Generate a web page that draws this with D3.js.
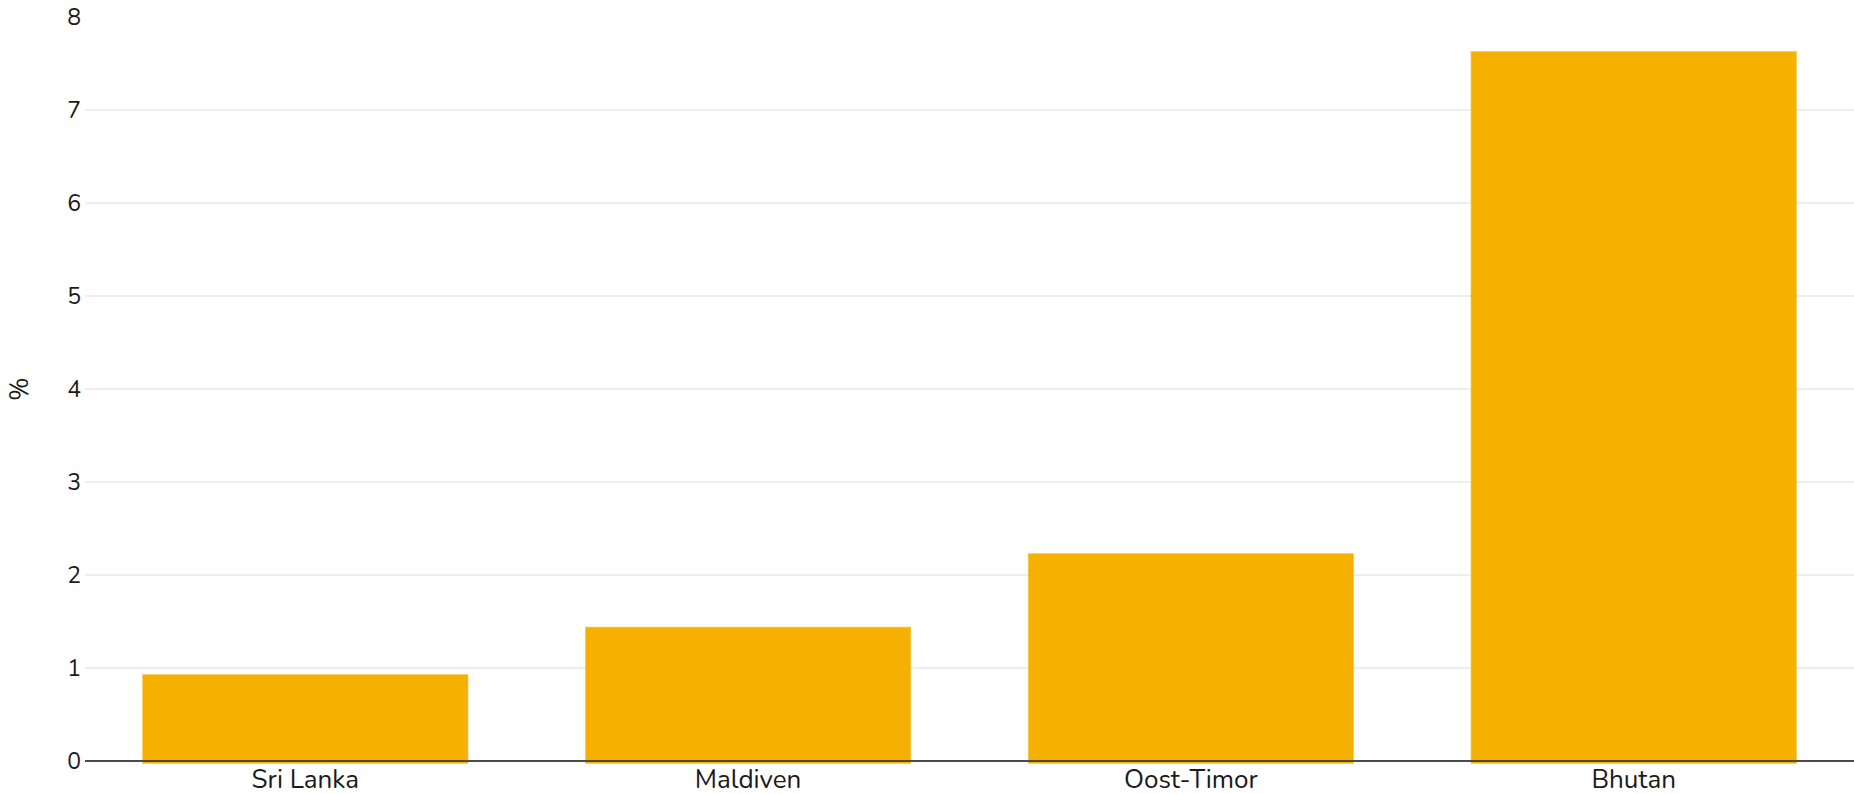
<!DOCTYPE html>
<html>
<head>
<meta charset="utf-8">
<script src="https://cdn.jsdelivr.net/npm/d3@7"></script>
<style>
  html, body { margin: 0; padding: 0; background: #fff; }
  text { font-family: Nunito, Lato, "Noto Sans", sans-serif; fill: #1a1a1a; }
</style>
</head>
<body>
<div id="wrapper"></div>
<script>
// data
const countries = ["Sri Lanka", "Maldiven", "Oost-Timor", "Bhutan"]
const values = [0.93, 1.44, 2.23, 7.63]
const yTicks = [0, 1, 2, 3, 4, 5, 6, 7, 8]
const yLabel = "%"

const dimensions = { width: 1854, height: 794 }
const margin = { top: 17, right: 0, bottom: 33, left: 85 }

const svg = d3.select("#wrapper")
    .append("svg")
        .attr("width", dimensions.width)
        .attr("height", dimensions.height)

const x = d3.scaleBand()
    .domain(countries)
    .range([margin.left, dimensions.width - margin.right])
    .paddingInner(0.265)
    .paddingOuter(0.13)

const y = d3.scaleLinear()
    .domain([0, 8])
    .range([dimensions.height - margin.bottom, margin.top])

// gridlines (none at 0 and at the top)
svg.append("g")
    .selectAll("line")
    .data(yTicks.filter(d => d > 0 && d < 8))
    .join("line")
        .attr("x1", margin.left)
        .attr("x2", dimensions.width - margin.right)
        .attr("y1", d => y(d))
        .attr("y2", d => y(d))
        .attr("stroke", "#e8e8e8")
        .attr("stroke-width", 1.5)

// y tick labels
svg.append("g")
    .selectAll("text")
    .data(yTicks)
    .join("text")
        .attr("x", margin.left - 4)
        .attr("y", d => y(d))
        .attr("dy", "0.36em")
        .attr("text-anchor", "end")
        .attr("font-size", 23)
        .text(d => d)

// bars
svg.append("g")
    .selectAll("rect")
    .data(values)
    .join("rect")
        .attr("x", (d, i) => x(countries[i]))
        .attr("width", x.bandwidth())
        .attr("y", d => y(d))
        .attr("height", d => y(0) - y(d) + 2.5)
        .attr("fill", "#f6b100")
        .attr("stroke", "#f9cb55")
        .attr("stroke-width", 0.6)

// baseline
svg.append("line")
    .attr("x1", margin.left)
    .attr("x2", dimensions.width - margin.right)
    .attr("y1", y(0))
    .attr("y2", y(0))
    .attr("stroke", "#4a4a4a")
    .attr("stroke-width", 2)

// x axis labels
const xAxis = svg.append("g")
    .attr("transform", `translate(0, ${y(0)})`)
    .call(d3.axisBottom(x).tickSize(0).tickPadding(0))
xAxis.select(".domain").remove()
xAxis.selectAll("text")
    .attr("font-size", 26)
    .attr("fill", "#1a1a1a")
    .attr("dy", null)
    .attr("y", 27)
    .style("font-family", "Nunito, Lato, 'Noto Sans', sans-serif")

// y label
svg.append("text")
    .attr("transform", `translate(18.5, ${(y(0) + y(8)) / 2}) rotate(-90)`)
    .attr("text-anchor", "middle")
    .attr("dy", "0.36em")
    .attr("font-size", 25)
    .text(yLabel)
</script>
</body>
</html>
